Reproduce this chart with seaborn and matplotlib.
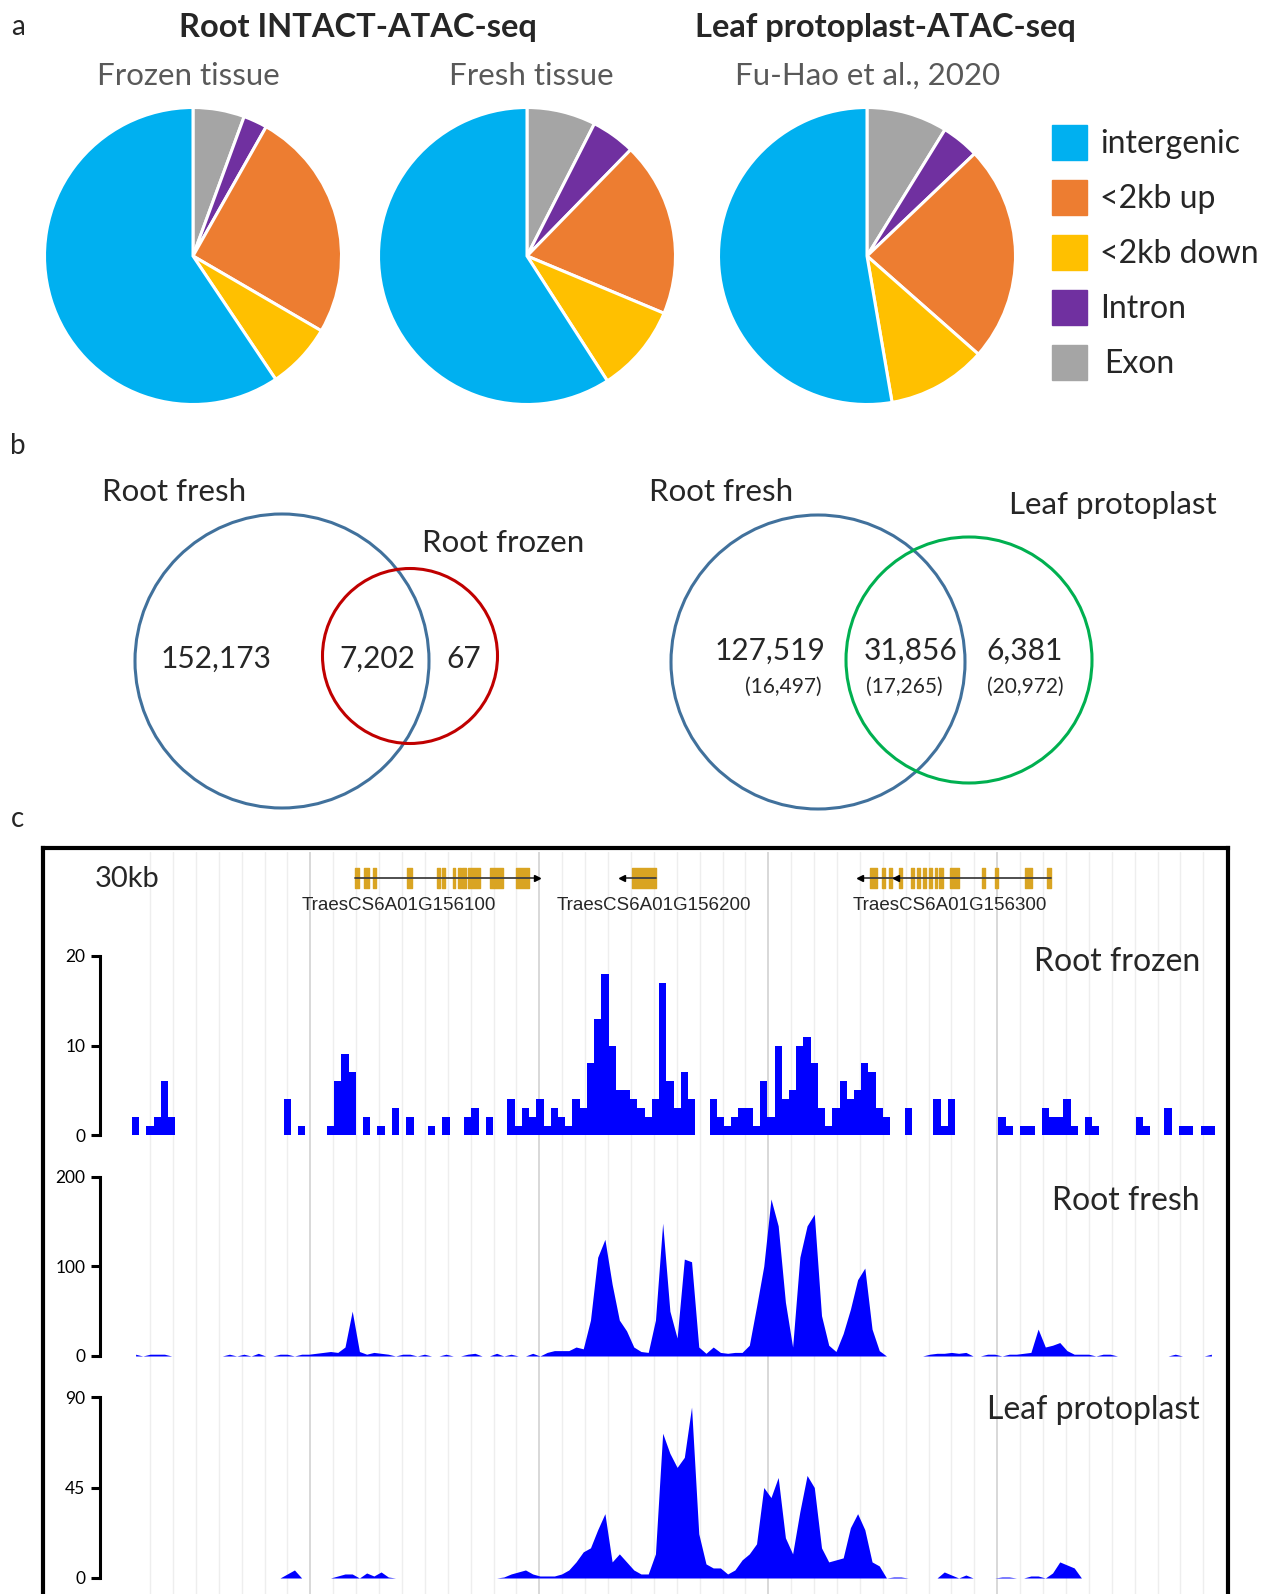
import numpy as np
import pandas as pd
import matplotlib
matplotlib.use("Agg")
import matplotlib.pyplot as plt
from matplotlib.patches import Rectangle, Circle
from matplotlib.lines import Line2D
import seaborn as sns

# ---------------- data ----------------
# panel a: peak annotation (%), listed clockwise from 12 o'clock
pie_cats = ["Exon", "Intron", "<2kb up", "<2kb down", "intergenic"]
frozen_pct = [5.6, 2.6, 25.2, 7.2, 59.4]
fresh_pct = [7.5, 4.8, 19.0, 9.6, 59.1]
leaf_pct = [8.8, 4.1, 23.6, 10.8, 52.7]
legend_cats = ["intergenic", "<2kb up", "<2kb down", "Intron", "Exon"]

# panel b: overlaps
venn1_sets = ["Root fresh", "Root frozen"]
venn1_counts = ["152,173", "7,202", "67"]
venn2_sets = ["Root fresh", "Leaf protoplast"]
venn2_counts = ["127,519", "31,856", "6,381"]
venn2_sub = ["(16,497)", "(17,265)", "(20,972)"]

# panel c: coverage in 0.2 kb bins over a 30 kb window
window_kb = 30
bin_kb = 0.2
root_frozen = [
    2, 0, 1, 2, 6, 2, 0, 0, 0, 0,
    0, 0, 0, 0, 0, 0, 0, 0, 0, 0,
    0, 4, 0, 1, 0, 0, 0, 1, 6, 9,
    7, 0, 2, 0, 1, 0, 3, 0, 2, 0,
    0, 1, 0, 2, 0, 0, 2, 3, 0, 2,
    0, 0, 4, 1, 3, 2, 4, 1, 3, 2,
    1, 4, 3, 8, 13, 18, 10, 5, 5, 4,
    3, 2, 4, 17, 6, 3, 7, 4, 0, 0,
    4, 2, 1, 2, 3, 3, 1, 6, 2, 10,
    4, 5, 10, 11, 8, 3, 1, 3, 6, 4,
    5, 8, 7, 3, 2, 0, 0, 3, 0, 0,
    0, 4, 1, 4, 0, 0, 0, 0, 0, 0,
    2, 1, 0, 1, 1, 0, 3, 2, 2, 4,
    1, 0, 2, 1, 0, 0, 0, 0, 0, 2,
    1, 0, 0, 3, 0, 1, 1, 0, 1, 1,
]
root_fresh = [
    2, 0, 2, 2, 2, 0, 0, 0, 0, 0,
    0, 0, 0, 2, 0, 2, 0, 3, 0, 0,
    2, 2, 0, 2, 2, 3, 4, 5, 4, 10,
    50, 5, 2, 4, 3, 2, 0, 2, 2, 0,
    2, 0, 0, 2, 0, 0, 2, 3, 0, 0,
    3, 0, 2, 0, 0, 3, 0, 4, 6, 6,
    6, 10, 8, 40, 110, 130, 80, 40, 28, 10,
    5, 4, 40, 148, 50, 20, 108, 105, 10, 3,
    10, 4, 3, 4, 4, 12, 55, 100, 175, 145,
    60, 10, 110, 145, 158, 45, 12, 5, 25, 52,
    85, 98, 30, 6, 0, 0, 0, 0, 0, 0,
    2, 3, 3, 4, 3, 4, 0, 0, 2, 2,
    0, 2, 2, 3, 4, 30, 10, 12, 15, 6,
    2, 2, 2, 0, 2, 2, 0, 0, 0, 0,
    0, 0, 0, 0, 2, 0, 0, 0, 0, 2,
]
leaf_protoplast = [
    0, 0, 0, 0, 0, 0, 0, 0, 0, 0,
    0, 0, 0, 0, 0, 0, 0, 0, 0, 0,
    0, 2, 4, 0, 0, 0, 0, 0, 1, 2,
    2, 0, 2.5, 1, 3, 0.5, 0, 0, 0, 0,
    0, 0, 0, 0, 0, 0, 0, 0, 0, 0,
    0, 0.5, 2, 3, 4, 2, 1, 1, 1, 2,
    4, 8, 13, 15, 24, 32, 8, 12, 8, 4,
    2, 2, 12, 72, 62, 55, 60, 85, 22, 7,
    5, 5, 2, 4, 9, 12, 17, 45, 40, 50,
    20, 12, 33, 51, 45, 15, 8, 9, 10, 25,
    32, 24, 8, 6, 0, 0.5, 0.5, 0, 0, 0,
    0, 0, 3, 1.5, 0, 1.5, 0, 0, 0, 0,
    0.5, 0.5, 0, 0, 1, 1, 0, 2.5, 8, 6.5,
    5, 0, 0, 0, 0, 0, 0, 0, 0, 0,
    0, 0, 0, 0, 0, 0, 0, 0, 0, 0,
]
track_names = ["Root frozen", "Root fresh", "Leaf protoplast"]
track_max = [20, 200, 90]

# gene models (kb in window)
gene_names = ["TraesCS6A01G156100", "TraesCS6A01G156200", "TraesCS6A01G156300"]
gene_span = [(6.18, 11.23), (13.57, 14.52), (20.17, 25.46)]
gene_strand = ["+", "-", "-"]
gene_exons = [
    [(6.18, 6.30), (6.43, 6.57), (6.68, 6.75), (7.61, 7.75), (8.46, 8.52),
     (8.60, 8.67), (8.89, 8.95), (9.04, 9.11), (9.15, 9.24), (9.31, 9.64),
     (9.91, 10.29), (10.65, 10.99)],
    [(13.85, 14.52)],
    [(20.43, 20.65), (20.77, 20.87), (20.96, 21.05), (21.24, 21.34), (21.58, 21.66),
     (21.74, 21.82), (21.92, 21.99), (22.09, 22.16), (22.25, 22.31), (22.35, 22.47),
     (22.67, 22.91), (23.55, 23.63), (23.91, 23.98), (24.74, 24.93), (25.35, 25.46)],
]
gene3_tss2 = 21.16

# ---------------- style ----------------
sns.set_theme(style="white")
plt.rcParams["font.family"] = ["Lato", "DejaVu Sans"]

pie_colors = {"intergenic": "#00b0f0", "<2kb up": "#ed7d31", "<2kb down": "#ffc000",
              "Intron": "#7030a0", "Exon": "#a5a5a5"}
track_blue = "#0000ff"
exon_col = "#d9a422"

W, H = 1269, 1594
fig = plt.figure(figsize=(W / 100, H / 100), dpi=100)


def fx(x):
    return x / W


def fy(y):
    return 1 - y / H


def txt(x, y, s, **kw):
    kw.setdefault("ha", "center")
    kw.setdefault("va", "center")
    fig.text(fx(x), fy(y + 2), s, **kw)


def add_ax(x0, y0, x1, y1):
    return fig.add_axes([fx(x0), fy(y1), (x1 - x0) / W, (y1 - y0) / H])


# ---------------- panel a ----------------
txt(18, 25, "a", fontsize=20)
txt(358, 25, "Root INTACT-ATAC-seq", fontsize=23.5, fontweight="bold")
txt(885, 25, "Leaf protoplast-ATAC-seq", fontsize=23.5, fontweight="bold")

r = 148.5
for cx, tx, sub, vals in [(193, 188, "Frozen tissue", frozen_pct),
                          (527, 531, "Fresh tissue", fresh_pct),
                          (867, 868, "Fu-Hao et al., 2020", leaf_pct)]:
    txt(tx, 74, sub, fontsize=22.5, color="#595959")
    ax = add_ax(cx - r, 256 - r, cx + r, 256 + r)
    ax.pie(vals, colors=[pie_colors[c] for c in pie_cats], startangle=90,
           counterclock=False, wedgeprops=dict(edgecolor="white", linewidth=2.2))
    ax.set_xlim(-1.0, 1.0)
    ax.set_ylim(-1.0, 1.0)
    ax.set_aspect("equal")
    ax.axis("off")

for i, c in enumerate(legend_cats):
    yc = 142 + 55 * i
    fig.add_artist(Rectangle((fx(1052), fy(yc + 17.5)), 35 / W, 35 / H,
                             transform=fig.transFigure, color=pie_colors[c]))
    txt(1100 if c != "Exon" else 1104, yc, c, fontsize=23, ha="left")

# ---------------- panel b ----------------
txt(18, 444, "b", fontsize=20)
vblue, vred, vgreen = "#41719c", "#c00000", "#00b050"
vax = add_ax(0, 420, W, 830)
vax.set_xlim(0, W)
vax.set_ylim(830, 420)
vax.axis("off")
vax.add_patch(Circle((282, 661), 147, fill=False, ec=vblue, lw=2.2))
vax.add_patch(Circle((410, 656), 87.5, fill=False, ec=vred, lw=2.2))
vax.add_patch(Circle((818, 662), 147, fill=False, ec=vblue, lw=2.2))
vax.add_patch(Circle((969, 660), 123, fill=False, ec=vgreen, lw=2.2))

txt(174, 490, venn1_sets[0], fontsize=22.5)
txt(503, 541, venn1_sets[1], fontsize=22.5)
for x, s in zip([216, 377, 464], venn1_counts):
    txt(x, 657, s, fontsize=21.5)

txt(721, 490, venn2_sets[0], fontsize=22.5)
txt(1113, 503, venn2_sets[1], fontsize=22.5)
for x, s in zip([770, 911, 1025], venn2_counts):
    txt(x, 649, s, fontsize=21.5)
for x, s in zip([783, 904, 1025], venn2_sub):
    txt(x, 685, s, fontsize=15)

# ---------------- panel c ----------------
txt(18, 817, "c", fontsize=20)
X0, X1 = 132, 1215

# background grid
gax = add_ax(X0, 852, X1, H)
gax.set_xlim(0, window_kb)
gax.set_ylim(0, 1)
gax.axis("off")
grid_pos = 0.5 + 0.6343 * np.arange(47)
for k, gx in enumerate(grid_pos):
    gax.axvline(gx, color="#d2d2d2" if k % 10 == 7 else "#eeeeee", lw=1.2 if k % 10 == 7 else 1.0)

# frame
for xs, ys in [([43, 1228], [848, 848]), ([43, 43], [848, H + 5]), ([1228, 1228], [848, H + 5])]:
    fig.add_artist(Line2D([fx(v) for v in xs], [fy(v) for v in ys],
                          transform=fig.transFigure, color="black", lw=3, solid_capstyle="projecting"))

txt(95, 877, "30kb", fontsize=21, ha="left")

# gene models
gene_ax = add_ax(X0, 858, X1, 898)
gene_ax.set_xlim(0, window_kb)
gene_ax.set_ylim(0, 1)
gene_ax.axis("off")
for (s, e), strand, exons in zip(gene_span, gene_strand, gene_exons):
    gene_ax.plot([s, e], [0.5, 0.5], color="#404040", lw=1.3)
    gene_ax.broken_barh([(a, b - a) for a, b in exons], (0.24, 0.52), color=exon_col)
    if strand == "+":
        gene_ax.plot(e, 0.5, marker=">", ms=5, color="black")
    else:
        gene_ax.plot(s, 0.5, marker="<", ms=5, color="black")
gene_ax.plot(gene3_tss2, 0.5, marker="<", ms=5, color="black")
for x, name in zip([399, 654, 950], gene_names):
    txt(x, 904, name, fontsize=13.5, family=["Liberation Sans", "DejaVu Sans"],
        color="#262626")

# coverage tracks
n_bins = int(round(window_kb / bin_kb))
bin_start = np.arange(n_bins) * bin_kb
track_px = [(956, 1135), (1176.5, 1356), (1397, 1578)]
label_y = [960, 1199, 1408]
track_elem = ["step", "poly", "poly"]
for vals, name, ymax, (top, bot), ly, elem in zip(
        [root_frozen, root_fresh, leaf_protoplast], track_names, track_max,
        track_px, label_y, track_elem):
    df = pd.DataFrame({"pos": bin_start + bin_kb / 2, "cov": vals})
    ax = add_ax(X0, top, X1, bot)
    sns.histplot(data=df, x="pos", weights="cov", binwidth=bin_kb, binrange=(0, window_kb),
                 element=elem, fill=True, color=track_blue, alpha=1, linewidth=0, ax=ax)
    ax.set_xlim(0, window_kb)
    ax.set_ylim(0, ymax)
    ax.patch.set_alpha(0)
    for s in ["top", "right", "bottom"]:
        ax.spines[s].set_visible(False)
    ax.spines["left"].set_position(("outward", 23))
    ax.spines["left"].set_bounds(0, ymax)
    ax.spines["left"].set_linewidth(2.2)
    ax.spines["left"].set_color("black")
    ax.set_yticks([0, ymax / 2, ymax])
    ax.set_yticklabels(["0", f"{ymax // 2}", f"{ymax}"])
    ax.tick_params(axis="y", left=True, length=6.5, width=2.2, colors="black",
                   labelsize=12.5, pad=4)
    ax.set_xticks([])
    ax.set_xlabel("")
    ax.set_ylabel("")
    txt(1200, ly, name, fontsize=23, ha="right")

fig.savefig("out.png", dpi=100)
